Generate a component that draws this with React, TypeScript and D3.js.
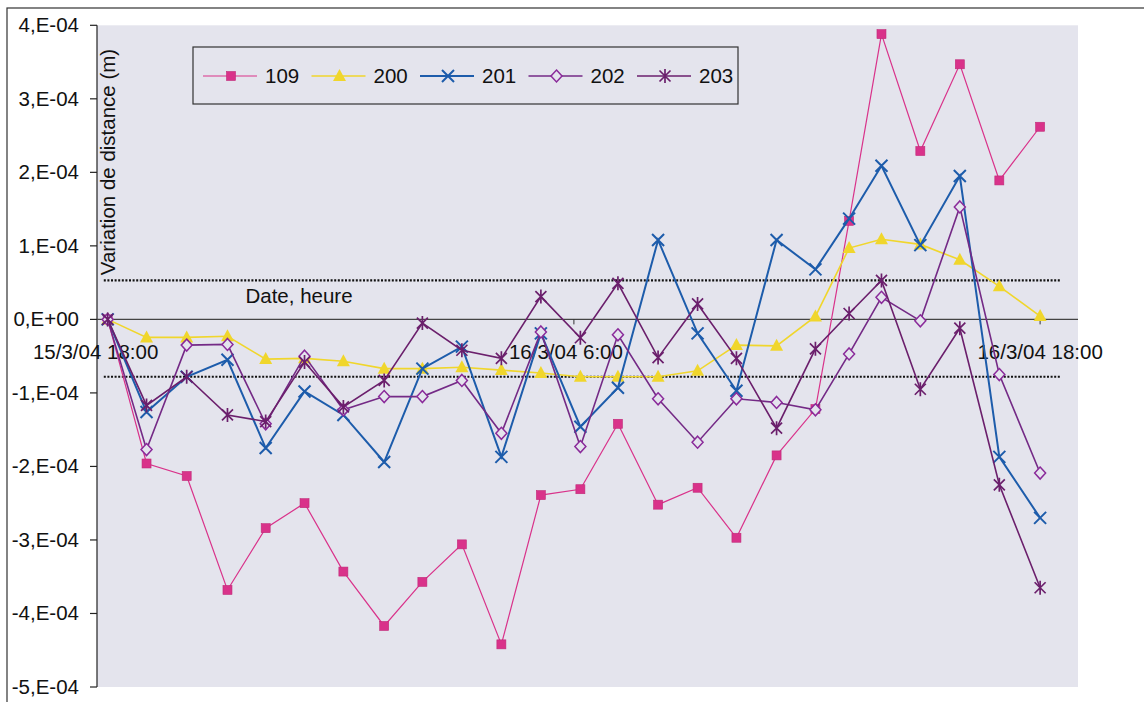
import * as d3 from 'd3';
import { useMemo } from 'react';

// measurement times (15/3/04 18:00 -> 16/3/04 18:00)
const times = [
  '2004-03-15T18:00', '2004-03-15T19:00', '2004-03-15T20:02', '2004-03-15T21:05',
  '2004-03-15T22:04', '2004-03-15T23:04', '2004-03-16T00:04', '2004-03-16T01:07',
  '2004-03-16T02:06', '2004-03-16T03:07', '2004-03-16T04:08', '2004-03-16T05:09',
  '2004-03-16T06:10', '2004-03-16T07:08', '2004-03-16T08:10', '2004-03-16T09:11',
  '2004-03-16T10:11', '2004-03-16T11:13', '2004-03-16T12:13', '2004-03-16T13:05',
  '2004-03-16T13:55', '2004-03-16T14:55', '2004-03-16T15:56', '2004-03-16T16:57',
  '2004-03-16T18:00',
];

// distance variation, in 1E-04 m
const s109 = [0, -1.96, -2.13, -3.68, -2.84, -2.5, -3.43, -4.17, -3.57, -3.06, -4.42, -2.39, -2.31, -1.42, -2.52, -2.29, -2.97, -1.85, -1.22, 1.34, 3.88, 2.29, 3.47, 1.89, 2.62];
const s200 = [0, -0.245, -0.245, -0.23, -0.54, -0.53, -0.57, -0.67, -0.67, -0.65, -0.69, -0.73, -0.78, -0.78, -0.78, -0.7, -0.35, -0.36, 0.04, 0.97, 1.09, 1.02, 0.81, 0.45, 0.045];
const s201 = [0, -1.26, -0.78, -0.55, -1.75, -0.98, -1.3, -1.94, -0.67, -0.37, -1.87, -0.19, -1.46, -0.93, 1.08, -0.19, -0.97, 1.08, 0.68, 1.37, 2.09, 1.01, 1.95, -1.87, -2.7];
const s202 = [0, -1.77, -0.35, -0.34, -1.42, -0.5, -1.23, -1.05, -1.05, -0.83, -1.55, -0.17, -1.73, -0.21, -1.08, -1.67, -1.08, -1.13, -1.23, -0.47, 0.3, -0.02, 1.53, -0.75, -2.09];
const s203 = [0, -1.17, -0.78, -1.3, -1.39, -0.58, -1.19, -0.83, -0.05, -0.42, -0.53, 0.31, -0.25, 0.49, -0.52, 0.21, -0.53, -1.48, -0.4, 0.08, 0.53, -0.95, -0.12, -2.25, -3.65];

const seriesNames = ['109', '200', '201', '202', '203'];
const seriesValues = [s109, s200, s201, s202, s203];

// threshold lines (1E-04 m)
const thresholds = [0.53, -0.78];
const thresholdSpan = ['2004-03-15T17:54', '2004-03-16T18:31'];

const yTicks = [4, 3, 2, 1, 0, -1, -2, -3, -4, -5];
const xTickTimes = ['2004-03-15T18:00', '2004-03-16T06:00', '2004-03-16T18:00'];
const xTickLabels = ['15/3/04 18:00', '16/3/04 6:00', '16/3/04 18:00'];

const COLORS = ['#d9328a', '#f0d62c', '#1d5cab', '#742a86', '#6b1f6c'];
const LINE_W = [1.2, 1.6, 2, 1.6, 1.6];
const FONT = '"Liberation Sans", Arial, sans-serif';
const BG = '#e4e4ed';

const PLOT = { left: 97, right: 1078, top: 25.3, bottom: 687 };

const Marker = ({ kind, x, y, color }: { kind: number; x: number; y: number; color: string }) => {
  switch (kind) {
    case 0:
      return <rect x={x - 4.5} y={y - 4.5} width={9} height={9} fill={color} stroke="#c02a78" strokeWidth={0.6} />;
    case 1:
      return <path d={`M${x},${y - 7}L${x + 6.5},${y + 5}L${x - 6.5},${y + 5}Z`} fill={color} />;
    case 2:
      return <path d={`M${x - 6},${y - 6}L${x + 6},${y + 6}M${x + 6},${y - 6}L${x - 6},${y + 6}`} stroke={color} strokeWidth={2} />;
    case 3:
      return <path d={`M${x},${y - 6}L${x + 5.5},${y}L${x},${y + 6}L${x - 5.5},${y}Z`} fill={BG} stroke="#8a2a9a" strokeWidth={1.5} />;
    default:
      return (
        <path
          d={`M${x - 5.5},${y - 5.5}L${x + 5.5},${y + 5.5}M${x + 5.5},${y - 5.5}L${x - 5.5},${y + 5.5}M${x},${y - 7}L${x},${y + 7}`}
          stroke={color}
          strokeWidth={1.7}
        />
      );
  }
};

const fmtY = (v: number) => (v === 0 ? '0,E+00' : `${v},E-04`);

export default function App() {
  const width = 1144;
  const height = 702;

  const xScale = useMemo(() => {
    return d3
      .scaleTime()
      .domain([new Date('2004-03-15T17:43:30'), new Date('2004-03-16T18:58:30')])
      .range([PLOT.left, PLOT.right]);
  }, []);

  const yScale = useMemo(() => {
    return d3.scaleLinear().domain([-5, 4]).range([PLOT.bottom, PLOT.top]);
  }, []);

  const dates = times.map((t) => new Date(t));
  const line = d3
    .line<number>()
    .x((_, i) => xScale(dates[i]))
    .y((v) => yScale(v));

  const y0 = yScale(0);

  return (
    <svg width={width} height={height} style={{ position: 'absolute', left: 0, top: 0, background: '#fff' }} fontFamily={FONT}>
      {/* outer frame */}
      <rect x={7} y={8} width={1200} height={720} fill="#fff" stroke="#333" strokeWidth={1.2} />

      {/* plot area */}
      <rect x={PLOT.left} y={PLOT.top} width={PLOT.right - PLOT.left} height={PLOT.bottom - PLOT.top} fill={BG} />

      {/* y axis */}
      <line x1={PLOT.left} x2={PLOT.left} y1={PLOT.top} y2={PLOT.bottom} stroke="#222" strokeWidth={1.2} />
      {yTicks.map((t) => (
        <g key={t}>
          <line x1={PLOT.left - 7} x2={PLOT.left} y1={yScale(t)} y2={yScale(t)} stroke="#222" strokeWidth={1.2} />
          <text x={79} y={yScale(t) + 7} fontSize={20.5} textAnchor="end" fill="#111">
            {fmtY(t)}
          </text>
        </g>
      ))}

      {/* zero line acting as x axis */}
      <line x1={PLOT.left} x2={PLOT.right} y1={y0} y2={y0} stroke="#444" strokeWidth={1.2} />
      {xTickTimes.map((t, i) => {
        const x = xScale(new Date(t));
        const dx = [-12, -8, 0][i];
        return (
          <g key={t}>
            <line x1={x} x2={x} y1={y0} y2={y0 + 5} stroke="#333" strokeWidth={1} />
            <text x={x + dx} y={359} fontSize={20.5} textAnchor="middle" fill="#111">
              {xTickLabels[i]}
            </text>
          </g>
        );
      })}

      {/* dotted thresholds */}
      {thresholds.map((v) => (
        <line
          key={v}
          x1={xScale(new Date(thresholdSpan[0]))}
          x2={xScale(new Date(thresholdSpan[1]))}
          y1={yScale(v)}
          y2={yScale(v)}
          stroke="#111"
          strokeWidth={2.2}
          strokeDasharray="2,1.6"
        />
      ))}

      {/* series */}
      {seriesValues.map((vals, si) => (
        <g key={seriesNames[si]}>
          <path d={line(vals) || ''} fill="none" stroke={COLORS[si]} strokeWidth={LINE_W[si]} />
          {vals.map((v, i) => (
            <Marker key={i} kind={si} x={xScale(dates[i])} y={yScale(v)} color={COLORS[si]} />
          ))}
        </g>
      ))}

      {/* axis titles */}
      <text transform="translate(115,162) rotate(-90)" fontSize={20.5} textAnchor="middle" fill="#111">
        Variation de distance (m)
      </text>
      <text x={299} y={303} fontSize={20.5} textAnchor="middle" fill="#111">
        Date, heure
      </text>

      {/* legend */}
      <rect x={193} y={47} width={545} height={57} fill={BG} stroke="#333" strokeWidth={1.2} />
      {seriesNames.map((name, i) => {
        const x0 = 203 + 108.5 * i;
        return (
          <g key={name}>
            <line x1={x0} x2={x0 + 54} y1={76} y2={76} stroke={COLORS[i]} strokeWidth={LINE_W[i]} />
            <Marker kind={i} x={x0 + 28} y={76} color={COLORS[i]} />
            <text x={x0 + 62} y={83} fontSize={20.5} fill="#111">
              {name}
            </text>
          </g>
        );
      })}
    </svg>
  );
}
